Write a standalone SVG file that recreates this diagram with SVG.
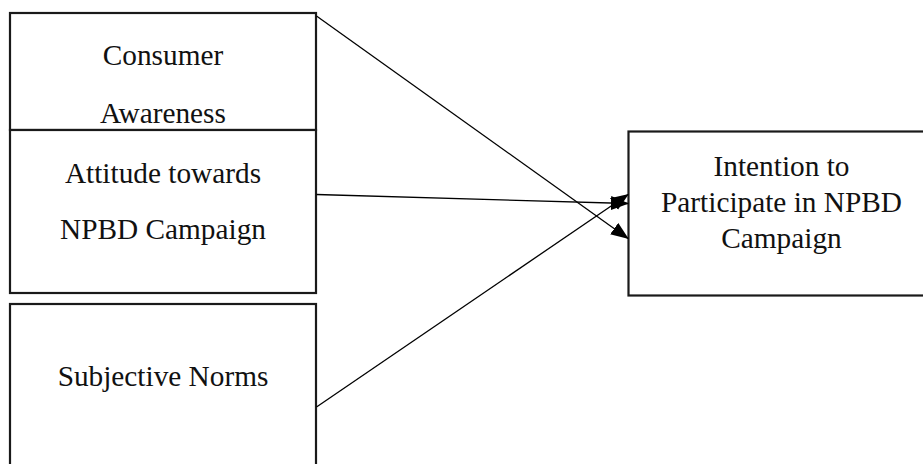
<svg xmlns="http://www.w3.org/2000/svg" width="923" height="464" viewBox="0 0 923 464">
<style>
.box{fill:#fff;stroke:#1a1a1a;stroke-width:2.2}
.t{font-family:"Liberation Serif","Times New Roman",serif;font-size:29.3px;fill:#111;text-anchor:middle}
.c{stroke:#000;stroke-width:1.3;fill:none;marker-end:url(#ah)}
</style>
<defs>
<marker id="ah" markerUnits="userSpaceOnUse" markerWidth="20" markerHeight="16" refX="17" refY="7" orient="auto">
<path d="M0,0 L18,7 L0,14 Z" fill="#000"/>
</marker>
</defs>
<rect width="923" height="464" fill="#fff"/>
<g id="n1">
<rect class="box" x="10" y="13" width="306" height="117"/>
<text class="t" x="163" y="65">Consumer</text>
<text class="t" x="163" y="123">Awareness</text>
</g>
<g id="n2">
<rect class="box" x="10" y="130" width="306" height="163"/>
<text class="t" x="163" y="183">Attitude towards</text>
<text class="t" x="163" y="239">NPBD Campaign</text>
</g>
<g id="n3">
<rect class="box" x="10" y="304" width="306" height="170"/>
<text class="t" x="163" y="386">Subjective Norms</text>
</g>
<g id="n4">
<rect class="box" x="628.5" y="131.5" width="310" height="164"/>
<text class="t" x="781.5" y="176">Intention to</text>
<text class="t" x="781.5" y="212">Participate in NPBD</text>
<text class="t" x="781.5" y="248">Campaign</text>
</g>
<g id="connectors">
<line class="c" x1="316.5" y1="16" x2="628" y2="238.5"/>
<line class="c" x1="316.5" y1="194.5" x2="628" y2="203.5"/>
<line class="c" x1="316.5" y1="407" x2="628" y2="194.5"/>
</g>
</svg>
